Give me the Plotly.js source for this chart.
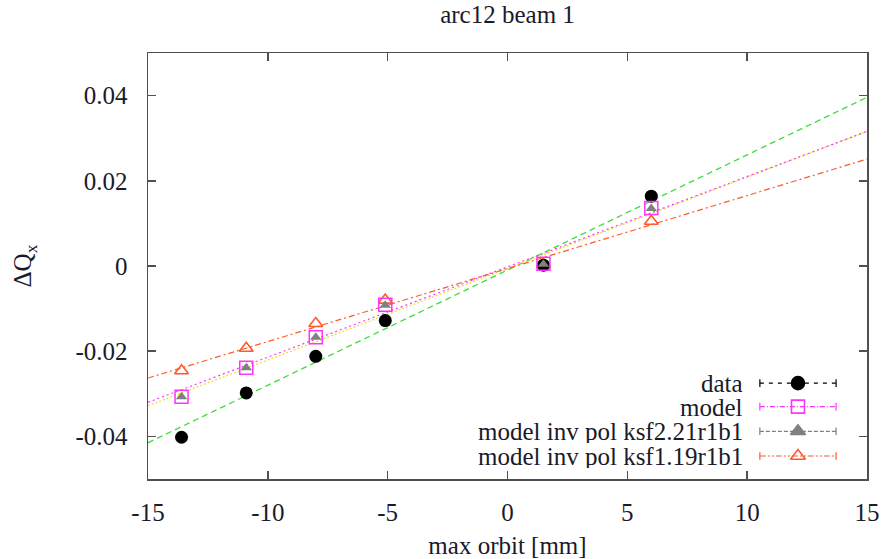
<!DOCTYPE html>
<html>
<head>
<meta charset="utf-8">
<script src="https://cdn.plot.ly/plotly-3.0.1.min.js"></script>
<style>html,body{margin:0;padding:0;background:#fff;}#chart{width:883px;height:559px;}</style>
</head>
<body>
<div id="chart"></div>
<script>
// ---- data ----
var xOrbit = [-13.6, -10.9, -8.0, -5.1, 1.5, 6.0];
var dataY = [-0.0402, -0.0298, -0.0212, -0.0128, 0.0002, 0.0164];
var modelY = [-0.0307, -0.0239, -0.0167, -0.0091, 0.0005, 0.0136];
var ksf221Y = [-0.0307, -0.0239, -0.0167, -0.0092, 0.0004, 0.0135];
var ksf119Y = [-0.0246, -0.0193, -0.0135, -0.0080, 0.0004, 0.0105];

// fitted lines, end points at the x range limits
var fitX = [-15, 15];
var fitData = [-0.0415, 0.0396];
var fitModel = [-0.0320, 0.0316];
var fitKsf221 = [-0.0328, 0.0316];
var fitKsf119 = [-0.0263, 0.0251];

var seriesNames = ['data', 'model', 'model inv pol ksf2.21r1b1', 'model inv pol ksf1.19r1b1'];
var xTicks = [-15, -10, -5, 0, 5, 10, 15];
var yTicks = [-0.04, -0.02, 0, 0.02, 0.04];
var yTickText = ['-0.04', '-0.02', '0', '0.02', '0.04'];

var FONT = 'Liberation Serif';
var TXT = '#1a1a2a';

var cGreen = '#3ddc3d', cMag = '#ff33ff', cYel = '#e8e040', cGrey = '#808080', cOr = '#ff5a2a';

var traces = [
  {x: fitX, y: fitData, mode: 'lines', line: {color: cGreen, width: 1.3, dash: '6px,4px'}, hoverinfo: 'skip'},
  {x: fitX, y: fitKsf221, mode: 'lines', line: {color: cYel, width: 1.3, dash: '2px,2px'}, hoverinfo: 'skip'},
  {x: fitX, y: fitModel, mode: 'lines', line: {color: cMag, width: 1.2, dash: '2px,3px'}, hoverinfo: 'skip'},
  {x: fitX, y: fitKsf119, mode: 'lines', line: {color: cOr, width: 1.2, dash: '6px,3px,2px,3px'}, hoverinfo: 'skip'},
  {x: xOrbit, y: ksf119Y, mode: 'markers', name: seriesNames[3],
   marker: {symbol: 'triangle-up-open', size: 12, color: cOr, line: {width: 1.6, color: cOr}}},
  {x: xOrbit, y: dataY, mode: 'markers', name: seriesNames[0],
   marker: {symbol: 'circle', size: 13, color: '#000'}},
  {x: xOrbit, y: modelY, mode: 'markers', name: seriesNames[1],
   marker: {symbol: 'square-open', size: 13, color: cMag, line: {width: 1.5, color: cMag}}},
  {x: xOrbit, y: ksf221Y, mode: 'markers', name: seriesNames[2],
   marker: {symbol: 'triangle-up', size: 10, color: cGrey}}
];

// ---- hand-made legend (text left, sample right, as in gnuplot) ----
var legRows = [0.225, 0.170, 0.112, 0.054];
var legX0 = 0.851, legX1 = 0.957, legXm = 0.904, legTextX = 0.830;
var legColors = ['#000', cMag, cGrey, cOr];
var legDash = ['4px,5px', '5px,2px,1px,2px', '4px,2px', '6px,2px,2px,2px,2px,2px'];
var legSym = ['circle', 'square-open', 'triangle-up', 'triangle-up-open'];
var legSize = [13, 13, 13, 13];

var shapes = [], annotations = [];
for (var i = 0; i < 4; i++) {
  shapes.push({type: 'line', xref: 'paper', yref: 'paper', x0: legX0, x1: legX1, y0: legRows[i], y1: legRows[i],
    line: {color: legColors[i], width: 1.2, dash: legDash[i]}});
  [legX0, legX1].forEach(function (xx) {
    shapes.push({type: 'line', xref: 'paper', yref: 'paper', x0: xx, x1: xx, y0: legRows[i] - 0.009, y1: legRows[i] + 0.009,
      line: {color: legColors[i], width: 1.2}});
  });
  annotations.push({xref: 'paper', yref: 'paper', x: legTextX, y: legRows[i], xanchor: 'right', yanchor: 'middle',
    text: seriesNames[i], showarrow: false, height: 24, valign: 'middle',
    font: {family: FONT, size: 25, color: TXT}});
  traces.push({x: [legXm], y: [legRows[i]], xaxis: 'x2', yaxis: 'y2', mode: 'markers', hoverinfo: 'skip',
    marker: {symbol: legSym[i], size: legSize[i], color: legColors[i], line: {width: 1.6, color: legColors[i]}}});
}

var axisCommon = {
  showline: true, linecolor: '#505050', linewidth: 1.5, mirror: 'ticks',
  ticks: 'inside', ticklen: 8, tickwidth: 1.5, tickcolor: '#505050',
  showgrid: false, zeroline: false,
  tickfont: {family: FONT, size: 25, color: TXT}
};

var layout = {
  width: 883, height: 559,
  margin: {l: 148, r: 16, t: 53, b: 80},
  paper_bgcolor: '#fff', plot_bgcolor: '#fff',
  showlegend: false,
  font: {family: FONT, size: 25, color: TXT},
  title: {text: 'arc12 beam 1', x: 0.5, xref: 'paper', y: 0.99, yref: 'container', yanchor: 'top',
    font: {family: FONT, size: 25, color: TXT}},
  xaxis: Object.assign({}, axisCommon, {
    range: [-15, 15], tickmode: 'array', tickvals: xTicks, ticktext: xTicks.map(String),
    ticklabelstandoff: 10,
    title: {text: 'max orbit [mm]', standoff: 12, font: {family: FONT, size: 25, color: TXT}}
  }),
  yaxis: Object.assign({}, axisCommon, {
    range: [-0.05, 0.05], tickmode: 'array', tickvals: yTicks, ticktext: yTickText,
    ticklabelstandoff: 14,
    title: {text: 'ΔQ<sub>x</sub>', standoff: 36, font: {family: FONT, size: 25, color: TXT}}
  }),
  xaxis2: {overlaying: 'x', range: [0, 1], visible: false, fixedrange: true},
  yaxis2: {overlaying: 'y', range: [0, 1], visible: false, fixedrange: true},
  shapes: shapes,
  annotations: annotations
};

Plotly.newPlot('chart', traces, layout, {staticPlot: true, displayModeBar: false});
</script>
</body>
</html>
